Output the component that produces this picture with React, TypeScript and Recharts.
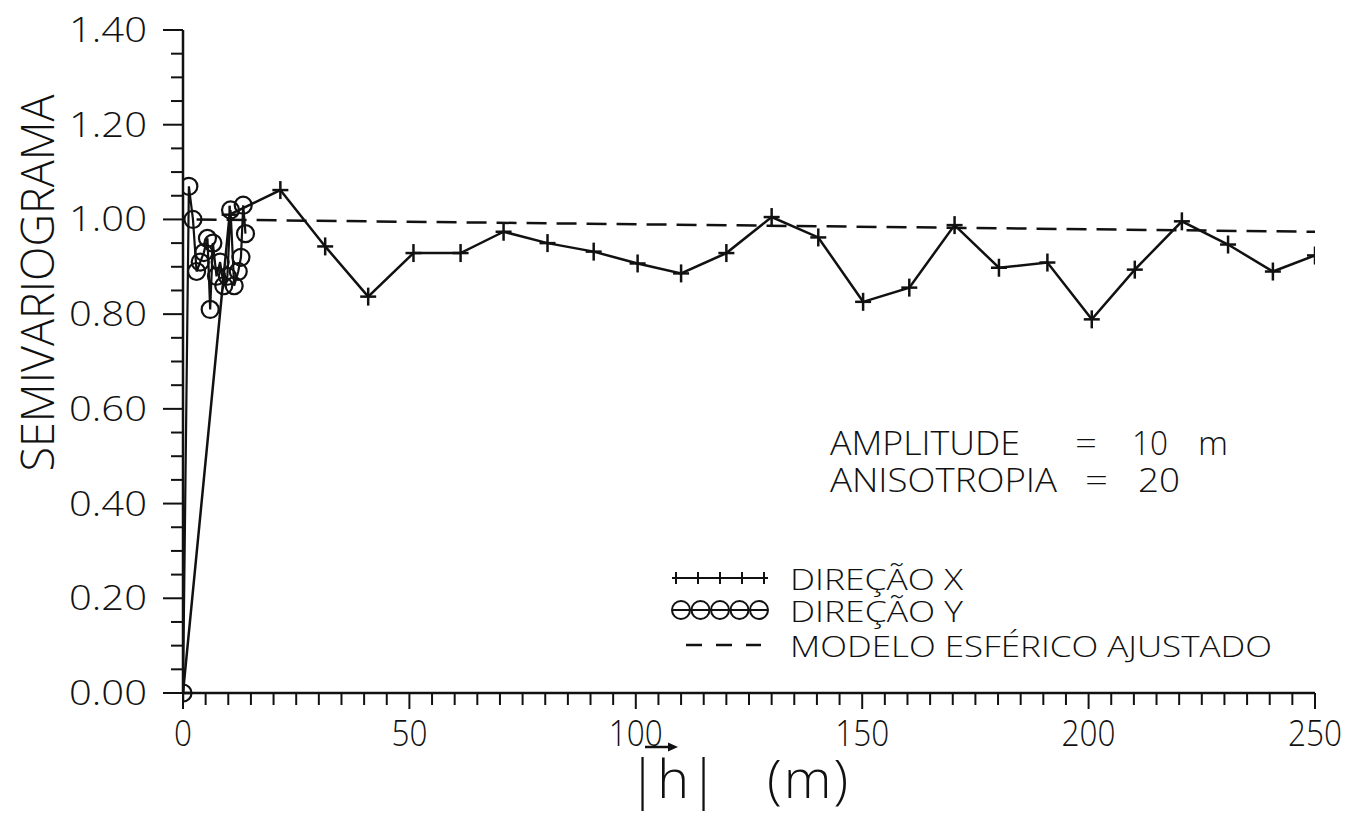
import { Line, LineChart, XAxis, YAxis } from "recharts";

// semivariograma experimental, direção X (lags em m)
const dirXLag = [0, 10.3, 21.5, 31.4, 40.9, 50.9, 61.3, 70.8, 80.5, 90.7, 100.4, 110, 120, 130, 140.3, 150.2, 160.4, 170.4, 180.2, 190.9, 200.7, 210.2, 220.6, 230.8, 240.7, 250];
const dirXGamma = [0, 1.01, 1.062, 0.943, 0.837, 0.929, 0.929, 0.974, 0.95, 0.932, 0.907, 0.886, 0.929, 1.005, 0.962, 0.826, 0.856, 0.988, 0.898, 0.909, 0.789, 0.894, 0.996, 0.947, 0.89, 0.924];

// direção Y
const dirYLag = [0, 1.3, 2.2, 3.0, 3.8, 4.6, 5.4, 6.0, 6.6, 7.4, 8.2, 9.0, 9.8, 10.5, 11.3, 12.2, 12.8, 13.3, 13.8];
const dirYGamma = [0, 1.07, 1.0, 0.89, 0.91, 0.93, 0.96, 0.81, 0.95, 0.88, 0.91, 0.86, 0.88, 1.02, 0.86, 0.89, 0.92, 1.03, 0.97];

// modelo esférico ajustado (patamar)
const modelLag = [3, 250];
const modelGamma = [1.0, 0.974];

const xLabels = [0, 50, 100, 150, 200, 250];
const yLabels = [0, 0.2, 0.4, 0.6, 0.8, 1.0, 1.2, 1.4];
const xTicks = Array.from({ length: 51 }, (_, i) => i * 5);
const yTicks = Array.from({ length: 29 }, (_, i) => Math.round(i * 5) / 100);

const FONT = "'Open Sans', 'DejaVu Sans', sans-serif";
const INK = "#111";

const dirX = dirXLag.map((lag, i) => ({ lag, gamma: dirXGamma[i] }));
const dirY = dirYLag.map((lag, i) => ({ lag, gamma: dirYGamma[i] }));
const model = modelLag.map((lag, i) => ({ lag, gamma: modelGamma[i] }));

function XTick(props: any) {
  const { x, y, payload } = props;
  const v = payload.value;
  const major = xLabels.includes(v);
  const s = String(v);
  return (
    <g>
      <line x1={x} y1={y} x2={x} y2={y + (major ? 16 : 12)} stroke={INK} strokeWidth={2} />
      {major && (
        <text x={x} y={y + 53} textAnchor="middle" fontSize={36} fontFamily={FONT} fontWeight={300} fill={INK}
          textLength={s.length * 18} lengthAdjust="spacingAndGlyphs">
          {s}
        </text>
      )}
    </g>
  );
}

function YTick(props: any) {
  const { x, y, payload } = props;
  const v = payload.value;
  const major = yLabels.some((l) => Math.abs(l - v) < 1e-6);
  return (
    <g>
      <line x1={x} y1={y} x2={x - (major ? 20 : 12)} y2={y} stroke={INK} strokeWidth={2} />
      {major && (
        <text x={x - 36} y={y + 12} textAnchor="end" fontSize={34} fontFamily={FONT} fontWeight={300} fill={INK}
          textLength={78} lengthAdjust="spacingAndGlyphs">
          {v.toFixed(2)}
        </text>
      )}
    </g>
  );
}

const plusDot = (p: any) => (
  <g key={`p${p.index}`}>
    <line x1={p.cx - 8} y1={p.cy} x2={p.cx + 8} y2={p.cy} stroke={INK} strokeWidth={2.5} />
    <line x1={p.cx} y1={p.cy - 9} x2={p.cx} y2={p.cy + 9} stroke={INK} strokeWidth={2.5} />
  </g>
);

const circleDot = (p: any) => (
  <circle key={`c${p.index}`} cx={p.cx} cy={p.cy} r={8.5} fill="none" stroke={INK} strokeWidth={2.2} />
);

const txt = { fontFamily: FONT, fontWeight: 300, fill: INK } as const;

export default function App() {
  return (
    <div style={{ position: "absolute", left: 0, top: 0, width: 1348, height: 815, background: "#fff" }}>
      <LineChart width={1348} height={815} margin={{ top: 30, right: 33, bottom: 0, left: 0 }}>
        <XAxis
          type="number"
          dataKey="lag"
          domain={[0, 250]}
          ticks={xTicks}
          interval={0}
          allowDataOverflow
          height={122}
          tickSize={0}
          tickMargin={0}
          tickLine={false}
          tick={<XTick />}
          axisLine={{ stroke: INK, strokeWidth: 2.5 }}
        />
        <YAxis
          type="number"
          dataKey="gamma"
          domain={[0, 1.4]}
          ticks={yTicks}
          interval={0}
          width={183}
          tickSize={0}
          tickMargin={0}
          tickLine={false}
          tick={<YTick />}
          axisLine={{ stroke: INK, strokeWidth: 2.5 }}
        />
        <Line data={model} dataKey="gamma" type="linear" stroke={INK} strokeWidth={2.5}
          strokeDasharray="20 10" dot={false} isAnimationActive={false} />
        <Line data={dirX} dataKey="gamma" type="linear" stroke={INK} strokeWidth={2.5}
          dot={plusDot} isAnimationActive={false} />
        <Line data={dirY} dataKey="gamma" type="linear" stroke={INK} strokeWidth={2.2}
          dot={circleDot} isAnimationActive={false} />
      </LineChart>

      <svg width={1348} height={815} style={{ position: "absolute", left: 0, top: 0, pointerEvents: "none" }}>
        <text x={54} y={283} transform="rotate(-90 54 283)" textAnchor="middle" fontSize={46} {...txt}
          textLength={377} lengthAdjust="spacingAndGlyphs">
          SEMIVARIOGRAMA
        </text>

        {/* |h| (m) */}
        <line x1={645} y1={747} x2={671} y2={747} stroke={INK} strokeWidth={2.5} />
        <path d="M668,742.5 L678,747 L668,751.5 Z" fill={INK} />
        <text x={628} y={798} fontSize={54} {...txt}>|h|</text>
        <text x={767} y={798} fontSize={54} {...txt} letterSpacing={2}>(m)</text>

        {/* parâmetros do modelo */}
        <text x={830} y={455} fontSize={33} {...txt} textLength={190} lengthAdjust="spacingAndGlyphs">AMPLITUDE</text>
        <text x={1075} y={455} fontSize={33} {...txt} textLength={22} lengthAdjust="spacingAndGlyphs">=</text>
        <text x={1132} y={455} fontSize={33} {...txt} textLength={36} lengthAdjust="spacingAndGlyphs">10</text>
        <text x={1198} y={455} fontSize={33} {...txt} textLength={30} lengthAdjust="spacingAndGlyphs">m</text>
        <text x={830} y={492} fontSize={33} {...txt} textLength={227} lengthAdjust="spacingAndGlyphs">ANISOTROPIA</text>
        <text x={1085} y={492} fontSize={33} {...txt} textLength={23} lengthAdjust="spacingAndGlyphs">=</text>
        <text x={1138} y={492} fontSize={33} {...txt} textLength={42} lengthAdjust="spacingAndGlyphs">20</text>

        {/* legenda */}
        <line x1={672} y1={578} x2={768} y2={578} stroke={INK} strokeWidth={2} />
        {[0, 1, 2, 3, 4].map((i) => (
          <line key={`lx${i}`} x1={676 + i * 22} y1={572} x2={676 + i * 22} y2={584} stroke={INK} strokeWidth={2} />
        ))}
        <text x={790} y={590} fontSize={29} {...txt} textLength={173} lengthAdjust="spacingAndGlyphs">DIREÇÃO X</text>

        <line x1={672} y1={610} x2={768} y2={610} stroke={INK} strokeWidth={2} />
        {[0, 1, 2, 3, 4].map((i) => (
          <circle key={`ly${i}`} cx={681 + i * 19.5} cy={610} r={9} fill="none" stroke={INK} strokeWidth={2} />
        ))}
        <text x={790} y={622} fontSize={29} {...txt} textLength={173} lengthAdjust="spacingAndGlyphs">DIREÇÃO Y</text>

        <line x1={686} y1={645} x2={761} y2={645} stroke={INK} strokeWidth={2.5} strokeDasharray="16 14" />
        <text x={790} y={657} fontSize={29} {...txt} textLength={482} lengthAdjust="spacingAndGlyphs">
          MODELO ESFÉRICO AJUSTADO
        </text>
      </svg>
    </div>
  );
}
